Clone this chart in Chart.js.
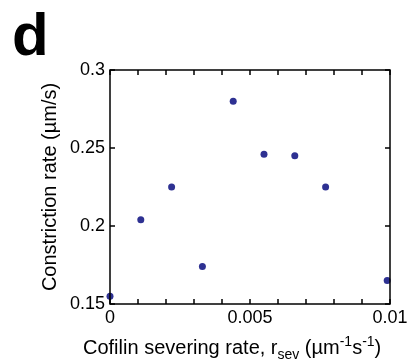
<!DOCTYPE html>
<html>
<head>
<meta charset="utf-8">
<script src="https://cdn.jsdelivr.net/npm/chart.js@4.4.1/dist/chart.umd.min.js"></script>
<style>
  html, body { margin: 0; padding: 0; background: #fff; }
  canvas { display: block; }
</style>
</head>
<body>
<canvas id="chart" width="419" height="364"></canvas>
<script>
// severing rate (um^-1 s^-1) vs constriction rate (um/s)
const severingRates = [0, 0.0011, 0.0022, 0.0033, 0.0044, 0.0055, 0.0066, 0.0077, 0.0099];
const constrictionRates = [0.155, 0.204, 0.225, 0.174, 0.280, 0.246, 0.245, 0.225, 0.165];

const xTickLabels = [0, 0.005, 0.01];
const xMinorTicks = [0, 0.001, 0.002, 0.003, 0.004, 0.005, 0.006, 0.007, 0.008, 0.009, 0.01];
const yTickLabels = [0.15, 0.2, 0.25, 0.3];

const FONT = 'Liberation Sans, Arial, Helvetica, sans-serif';

// box round the plot + inward ticks on all four sides
const boxPlugin = {
    id: 'box',
    afterDraw(chart) {
        const ctx = chart.ctx;
        const a = chart.chartArea;
        const xs = chart.scales.x;
        const ys = chart.scales.y;
        const len = 5;
        ctx.save();
        ctx.strokeStyle = '#000';
        ctx.lineWidth = 1.5;
        ctx.strokeRect(a.left, a.top, a.right - a.left, a.bottom - a.top);
        ctx.beginPath();
        xMinorTicks.forEach(function (v) {
            let px = xs.getPixelForValue(v);
            ctx.moveTo(px, a.bottom);
            ctx.lineTo(px, a.bottom - len);
            ctx.moveTo(px, a.top);
            ctx.lineTo(px, a.top + len);
        });
        yTickLabels.forEach(function (v) {
            let py = ys.getPixelForValue(v);
            ctx.moveTo(a.left, py);
            ctx.lineTo(a.left + len, py);
            ctx.moveTo(a.right, py);
            ctx.lineTo(a.right - len, py);
        });
        ctx.stroke();

        // panel letter
        ctx.fillStyle = '#000';
        ctx.font = 'bold 60px ' + FONT;
        ctx.textBaseline = 'alphabetic';
        ctx.textAlign = 'left';
        ctx.fillText('d', 12, 55);

        // x axis title with sub/superscripts
        const parts = [
            ['Cofilin severing rate, r', 20, 0],
            ['sev', 14, 5],
            [' (\u00b5m', 20, 0],
            ['-1', 14, -8],
            ['s', 20, 0],
            ['-1', 14, -8],
            [')', 20, 0]
        ];
        let x = 83;
        const base = 354;
        parts.forEach(function (p) {
            ctx.font = p[1] + 'px ' + FONT;
            ctx.fillText(p[0], x, base + p[2]);
            x += ctx.measureText(p[0]).width;
        });
        ctx.restore();
    }
};

new Chart(document.getElementById('chart').getContext('2d'), {
    type: 'scatter',
    data: {
        datasets: [{
            data: severingRates.map(function (v, i) { return {x: v, y: constrictionRates[i]}; }),
            backgroundColor: 'rgb(46, 49, 146)',
            borderColor: 'rgb(46, 49, 146)',
            pointRadius: 3.5,
            pointBorderWidth: 0,
            clip: false
        }]
    },
    options: {
        responsive: false,
        animation: false,
        devicePixelRatio: 1,
        layout: {
            padding: {top: 70, right: 29, left: 0, bottom: 0}
        },
        plugins: {
            legend: {display: false},
            tooltip: {enabled: false}
        },
        scales: {
            x: {
                type: 'linear',
                min: 0,
                max: 0.01,
                afterBuildTicks: function (scale) {
                    scale.ticks = xTickLabels.map(function (v) { return {value: v}; });
                },
                afterFit: function (scale) { scale.height = 60; },
                grid: {display: false, drawTicks: false},
                border: {display: false},
                ticks: {
                    color: '#000',
                    padding: 3,
                    maxRotation: 0,
                    font: {family: FONT, size: 18},
                    callback: function (v) { return String(v); }
                }
            },
            y: {
                min: 0.15,
                max: 0.3,
                afterBuildTicks: function (scale) {
                    scale.ticks = yTickLabels.map(function (v) { return {value: v}; });
                },
                afterFit: function (scale) { scale.width = 110; },
                grid: {display: false, drawTicks: false},
                border: {display: false},
                title: {
                    display: true,
                    text: 'Constriction rate (\u00b5m/s)',
                    color: '#000',
                    font: {family: FONT, size: 20},
                    padding: {top: 38, bottom: 0}
                },
                ticks: {
                    color: '#000',
                    padding: 5,
                    font: {family: FONT, size: 18},
                    callback: function (v) { return String(v); }
                }
            }
        }
    },
    plugins: [boxPlugin]
});
</script>
</body>
</html>
